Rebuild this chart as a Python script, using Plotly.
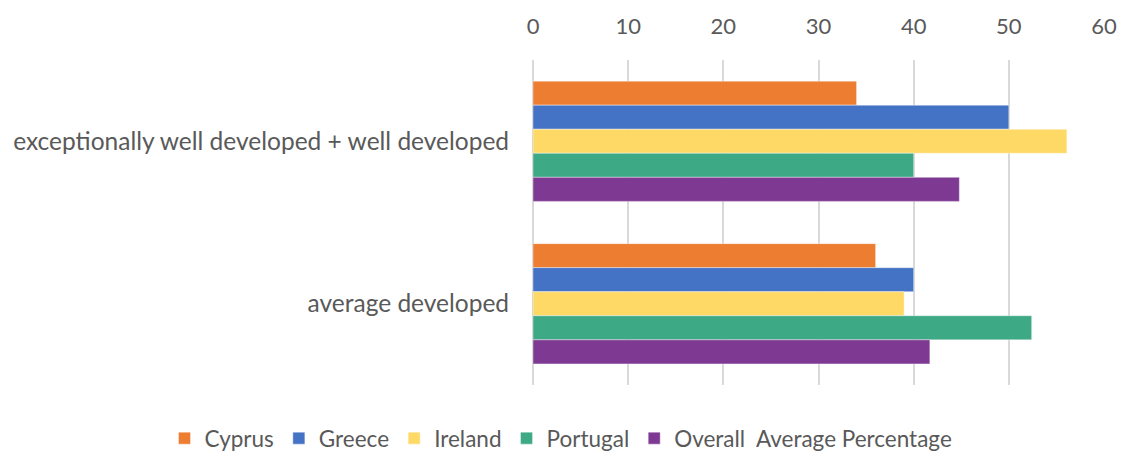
import plotly.graph_objects as go

categories = ["exceptionally well developed + well developed", "average developed"]
series_names = ["Cyprus", "Greece", "Ireland", "Portugal", "Overall  Average Percentage"]
cyprus = [34.0, 36.0]
greece = [50.0, 40.0]
ireland = [56.1, 39.0]
portugal = [40.0, 52.4]
overall = [44.8, 41.7]
tick_vals = [0, 10, 20, 30, 40, 50, 60]

values = [cyprus, greece, ireland, portugal, overall]
colors = ["#ED7D31", "#4472C4", "#FFD966", "#3DA985", "#7E3A92"]

fig = go.Figure()
for name, vals, col in zip(series_names, values, colors):
    fig.add_trace(go.Bar(
        y=categories, x=vals, name=name, orientation="h",
        marker=dict(color=col, line=dict(color="rgba(255,255,255,0.4)", width=1)),
    ))

W, H = 1122, 453
ml, mr, mt, mb = 10, 18, 60, 68
plot_w = W - ml - mr
plot_h = H - mt - mb
x0 = (533 - ml) / plot_w

font_family = "Lato, Open Sans, Liberation Sans, sans-serif"
fig.update_layout(
    width=W, height=H,
    barmode="group", bargap=0.26, bargroupgap=0,
    plot_bgcolor="white", paper_bgcolor="white",
    margin=dict(l=ml, r=mr, t=mt, b=mb, autoexpand=False),
    font=dict(family=font_family, color="#595959"),
    xaxis=dict(
        domain=[x0, 1],
        side="top", range=[0, 60], tickvals=tick_vals,
        showgrid=True, gridcolor="#D9D9D9", gridwidth=1.5,
        zeroline=True, zerolinecolor="#D9D9D9", zerolinewidth=1.5,
        showline=False, automargin=False,
        tickfont=dict(size=22, color="#595959"),
        ticks="outside", ticklen=16, tickcolor="rgba(0,0,0,0)",
    ),
    yaxis=dict(
        autorange="reversed", showgrid=False, zeroline=False, showline=False,
        automargin=False,
        tickfont=dict(size=24.5, color="#595959"),
        ticks="outside", ticklen=18, tickcolor="rgba(0,0,0,0)",
    ),
    legend=dict(
        orientation="h", xref="container", x=0.5, xanchor="center",
        yref="paper", y=-32 / plot_h, yanchor="top",
        font=dict(size=22.5, color="#595959"),
        traceorder="normal", itemwidth=30,
    ),
)

fig.write_html(
    "out.html",
    config={"displayModeBar": False},
    post_script="document.body.style.margin='0';document.body.style.overflow='hidden';",
)
